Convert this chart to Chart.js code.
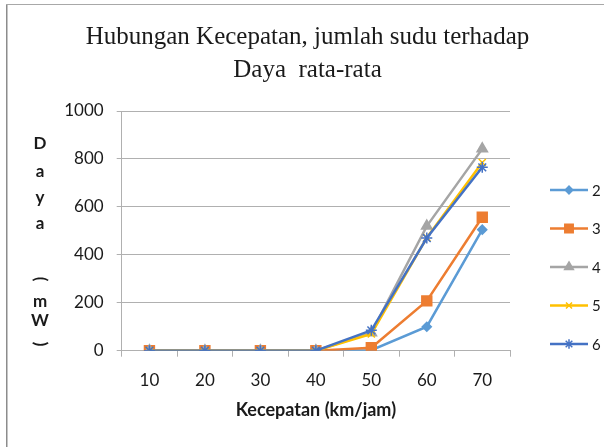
<!DOCTYPE html>
<html>
<head>
<meta charset="utf-8">
<script src="https://cdn.jsdelivr.net/npm/chart.js@4/dist/chart.umd.min.js"></script>
<style>
  html, body { margin: 0; padding: 0; background: #fff; }
  #wrap { width: 604px; height: 447px; }
</style>
</head>
<body>
<div id="wrap"><canvas id="daya-chart" width="604" height="447"></canvas></div>
<script>
const speeds = ["10", "20", "30", "40", "50", "60", "70"];
const bladeCounts = ["2", "3", "4", "5", "6"];
const daya2 = [0, 0, 0, 0, 2, 100, 505];
const daya3 = [0, 0, 0, 0, 12, 208, 557];
const daya4 = [0, 0, 0, 0, 75, 520, 842];
const daya5 = [0, 0, 0, 0, 70, 472, 785];
const daya6 = [0, 0, 0, 0, 85, 470, 765];
const yTicks = [0, 200, 400, 600, 800, 1000];

const seriesValues = [daya2, daya3, daya4, daya5, daya6];
const seriesColors = ["#5B9BD5", "#ED7D31", "#A5A5A5", "#FFC000", "#4472C4"];
const seriesPoints = ["rectRot", "rect", "triangle", "crossRot", "star"];
const seriesRadius = [4.5, 7, 6, 5, 5.5];

const ink = "#1a1a1a";
const gridColor = "#b0b0b0";

// frame round the chart, like the excel chart border
const framePlugin = {
  id: "frame",
  beforeDraw(chart) {
    const ctx = chart.ctx;
    ctx.save();
    ctx.fillStyle = "#fff";
    ctx.fillRect(0, 0, chart.width, chart.height);
    ctx.fillStyle = "#8c8c8c";
    ctx.fillRect(6, 4, 1.5, chart.height - 4);
    ctx.fillStyle = "#a8a8a8";
    ctx.fillRect(6, 4, chart.width - 6, 1);
    ctx.restore();
  }
};

// stacked vertical y title "Daya (mW)"
const yTitlePlugin = {
  id: "ytitle",
  afterDraw(chart) {
    const ctx = chart.ctx;
    const chars = ["D", "a", "y", "a", "(", "m", "W", ")"];
    const ys = [144, 172, 198, 224, 279, 302, 321, 344];
    ctx.save();
    ctx.font = "bold 17px Lato";
    ctx.fillStyle = ink;
    ctx.textAlign = "center";
    ctx.textBaseline = "middle";
    chars.forEach((c, i) => {
      ctx.save();
      ctx.translate(40, ys[i]);
      if (c === "(" || c === ")") ctx.rotate(Math.PI / 2);
      ctx.fillText(c, 0, 0);
      ctx.restore();
    });
    ctx.restore();
  }
};

// legend with line + marker, drawn to the right of the plot
const legendPlugin = {
  id: "sideLegend",
  afterDraw(chart) {
    const ctx = chart.ctx;
    chart.data.datasets.forEach((ds, i) => {
      const y = 190 + i * 38.5;
      ctx.save();
      ctx.strokeStyle = ds.borderColor;
      ctx.lineWidth = 2.5;
      ctx.beginPath();
      ctx.moveTo(550, y);
      ctx.lineTo(588, y);
      ctx.stroke();
      ctx.fillStyle = ds.pointBackgroundColor;
      ctx.strokeStyle = ds.pointBorderColor;
      ctx.lineWidth = 1.5;
      Chart.helpers.drawPoint(ctx, {
        pointStyle: ds.pointStyle,
        radius: ds.pointRadius * 0.85,
        rotation: 0,
        borderWidth: 1.5
      }, 569, y);
      ctx.fillStyle = ink;
      ctx.font = "15px Lato";
      ctx.textAlign = "left";
      ctx.textBaseline = "middle";
      ctx.fillText(bladeCounts[i], 592, y + 1);
      ctx.restore();
    });
  }
};

const datasets = bladeCounts.map((name, i) => ({
  label: name,
  data: seriesValues[i],
  borderColor: seriesColors[i],
  backgroundColor: seriesColors[i],
  pointBackgroundColor: seriesColors[i],
  pointBorderColor: seriesColors[i],
  pointStyle: seriesPoints[i],
  pointRadius: seriesRadius[i],
  pointBorderWidth: 1.5,
  borderWidth: 2.5,
  tension: 0,
  order: bladeCounts.length - i
}));

new Chart("daya-chart", {
  type: "line",
  data: { labels: speeds, datasets: datasets },
  plugins: [framePlugin, yTitlePlugin, legendPlugin],
  options: {
    responsive: false,
    animation: false,
    layout: { padding: { left: 11, right: 0, top: 0, bottom: 0 } },
    plugins: {
      legend: { display: false },
      tooltip: { enabled: false },
      title: {
        display: true,
        text: ["Hubungan Kecepatan, jumlah sudu terhadap", "Daya  rata-rata"],
        color: ink,
        font: { family: "Liberation Serif", size: 25, weight: "normal", lineHeight: 1.32 },
        padding: { top: 21, bottom: 24 }
      }
    },
    scales: {
      x: {
        offset: true,
        afterFit(scale) { scale.height = 96.3; },
        grid: { display: true, drawOnChartArea: false, offset: true, tickLength: 6, color: gridColor },
        border: { display: true, color: gridColor },
        ticks: { color: ink, font: { family: "Lato", size: 17 }, padding: 14 },
        title: {
          display: true,
          text: "Kecepatan (km/jam)",
          color: ink,
          font: { family: "Lato", size: 18, weight: "bold" },
          padding: { top: 0, bottom: 26 }
        }
      },
      y: {
        min: 0,
        max: 1000,
        afterFit(scale) { scale.width = 110.7; },
        afterBuildTicks(scale) { scale.ticks = yTicks.map(v => ({ value: v })); },
        grid: { color: gridColor, tickLength: 5 },
        border: { display: true, color: gridColor },
        ticks: { color: ink, font: { family: "Lato", size: 17 }, padding: 13, callback: v => String(v) }
      },
      // empty right box that keeps room for the legend
      side: {
        position: "right",
        afterFit(scale) { scale.width = 94; },
        grid: { display: false },
        border: { display: false },
        ticks: { display: false }
      }
    }
  }
});
</script>
</body>
</html>
